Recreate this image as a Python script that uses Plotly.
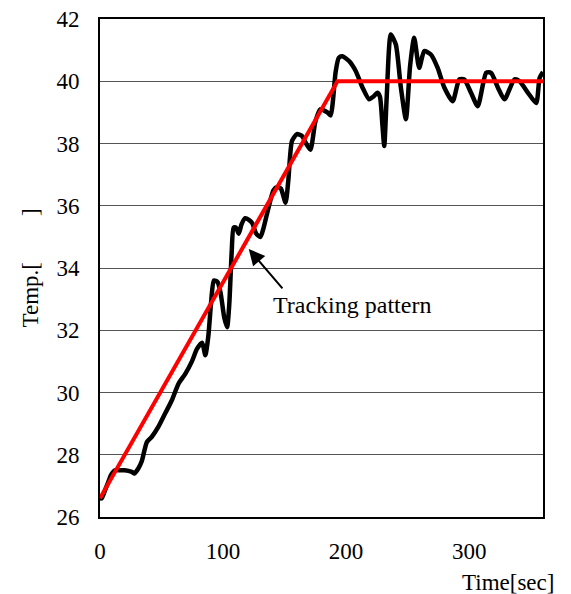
import plotly.graph_objects as go

# Measured temperature (black)
time_meas = [0, 1.4, 4, 6.5, 9, 12.2, 16, 20, 25.8, 28, 31, 34, 38, 42, 47.5, 53, 58.4, 63.8, 69.3,
             74.7, 78.8, 83, 85.6, 88, 90.5, 92.5, 95.5, 98, 101, 103.3, 105, 107, 108.6, 110.5,
             112.7, 115, 118, 121, 123.6, 127, 130.4, 133, 137, 141, 144, 147, 150.8, 153, 156,
             160, 164, 167.5, 171, 175, 179, 184.8, 187.4, 191.5, 194, 197, 202.4, 207.8, 213.3,
             218.7, 222, 225.5, 227.5, 229.5, 231, 233, 236.3, 240.4, 244.5, 248.6, 252, 255.3,
             259.4, 263.5, 268.9, 274.4, 279.8, 286.6, 292, 296, 301.5, 307, 313.8, 317.8, 323.3,
             328.7, 336.8, 341, 347.8, 354.5, 357.2, 360]
temp_meas = [26.6, 26.6, 26.85, 27.1, 27.35, 27.5, 27.5, 27.5, 27.45, 27.4, 27.55, 27.8, 28.4, 28.57,
             28.9, 29.33, 29.75, 30.28, 30.6, 31.0, 31.4, 31.6, 31.2, 31.8, 33.0, 33.6, 33.55,
             33.2, 32.4, 32.1, 32.8, 34.5, 35.3, 35.3, 35.1, 35.4, 35.6, 35.55, 35.45, 35.1, 35.0,
             35.3, 35.95, 36.5, 36.6, 36.55, 36.1, 36.8, 38.08, 38.3, 38.25, 38.0, 37.8, 38.7,
             39.1, 39.0, 38.9, 40.3, 40.75, 40.8, 40.65, 40.33, 39.8, 39.42, 39.5, 39.63, 39.5,
             38.6, 37.92, 39.5, 41.5, 41.18, 39.8, 38.78, 40.5, 41.4, 40.43, 40.97, 40.86, 40.43,
             39.8, 39.36, 40.06, 40.06, 39.63, 39.2, 40.27, 40.27, 39.8, 39.42, 40.06, 40.0, 39.63,
             39.3, 40.1, 40.3]

# Tracking pattern (red)
time_pat = [0, 193, 360]
temp_pat = [26.6, 40.0, 40.0]

x_ticks = [0, 100, 200, 300]
y_ticks = [26, 28, 30, 32, 34, 36, 38, 40, 42]

FONT = "Liberation Serif"
FS = 23

fig = go.Figure()
fig.add_trace(go.Scatter(x=time_meas, y=temp_meas, mode="lines",
                         line=dict(color="black", width=4.5, shape="spline", smoothing=0.6),
                         showlegend=False, hoverinfo="skip"))
fig.add_trace(go.Scatter(x=time_pat, y=temp_pat, mode="lines",
                         line=dict(color="#ff0000", width=4),
                         showlegend=False, hoverinfo="skip"))

fig.update_layout(
    width=571, height=594,
    margin=dict(l=92, r=36, t=11, b=85),
    paper_bgcolor="white", plot_bgcolor="white",
    font=dict(family=FONT, size=FS, color="black"),
    xaxis=dict(range=[0, 360], tickvals=x_ticks, showgrid=False, zeroline=False,
               showline=True, linecolor="black", linewidth=2, mirror=True,
               ticks="outside", ticklen=12, tickcolor="rgba(0,0,0,0)",
               ticklabeloverflow="allow", automargin=False,
               tickfont=dict(family=FONT, size=FS, color="black")),
    yaxis=dict(range=[26, 42], tickvals=y_ticks, showgrid=True, gridcolor="#555555",
               gridwidth=1, zeroline=False, showline=True, linecolor="black",
               linewidth=2, mirror=True,
               ticks="outside", ticklen=14, tickcolor="rgba(0,0,0,0)",
               ticklabeloverflow="allow", automargin=False,
               tickfont=dict(family=FONT, size=FS, color="black")),
    annotations=[
        dict(x=120.9, y=34.61, ax=149.3, ay=33.3, xref="x", yref="y", axref="x", ayref="y",
             showarrow=True, arrowhead=2, arrowsize=1.6, arrowwidth=2, arrowcolor="black",
             text=""),
        dict(x=204.6, y=32.8, xref="x", yref="y", text="Tracking pattern", showarrow=False,
             xanchor="center", yanchor="middle",
             font=dict(family=FONT, size=24, color="black")),
        dict(x=0.921, y=-0.132, xref="paper", yref="paper", text="Time[sec]", showarrow=False,
             xanchor="center", yanchor="middle",
             font=dict(family=FONT, size=FS, color="black")),
        dict(x=-0.158, y=0.499, xref="paper", yref="paper", text="Temp.[\u2003\u2003]",
             textangle=-90, showarrow=False, xanchor="center", yanchor="middle",
             font=dict(family=FONT, size=FS, color="black")),
    ],
)

fig.write_html("out.html")
